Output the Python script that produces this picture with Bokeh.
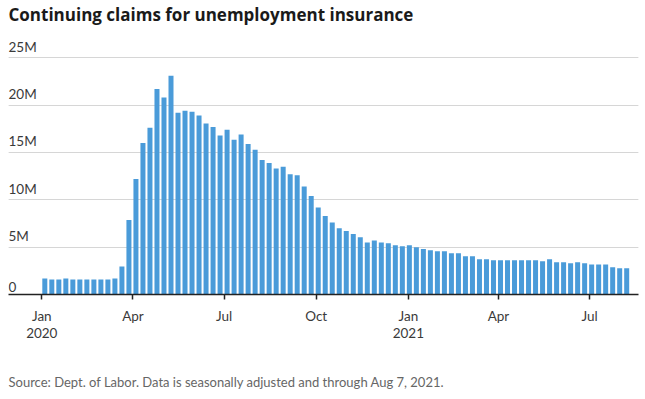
import pandas as pd
from bokeh.plotting import figure
from bokeh.layouts import column
from bokeh.models import (ColumnDataSource, FixedTicker, Grid, Label,
                          CustomJSTickFormatter, Range1d)
from bokeh.embed import file_html
from bokeh.resources import INLINE

title_text = "Continuing claims for unemployment insurance"
source_text = "Source: Dept. of Labor. Data is seasonally adjusted and through Aug 7, 2021."

first_week = "2020-01-04"
# weekly continuing claims, millions
claims_millions = [
    1.70, 1.59, 1.59, 1.70, 1.59, 1.59, 1.59, 1.59, 1.59, 1.59,
    1.70, 2.97, 7.86, 12.2, 16.0, 17.6, 21.7, 20.8, 23.1, 19.2,
    19.4, 19.3, 18.9, 18.05, 17.7, 16.8, 17.4, 16.35, 16.9, 15.9,
    15.3, 14.2, 13.9, 13.3, 13.5, 12.7, 12.6, 11.4, 10.4, 9.2,
    8.3, 7.6, 7.0, 6.7, 6.4, 6.05, 5.5, 5.7, 5.5, 5.4,
    5.2, 5.1, 5.2, 5.0, 4.8, 4.67, 4.57, 4.57, 4.35, 4.35,
    4.03, 4.03, 3.72, 3.72, 3.61, 3.61, 3.61, 3.61, 3.61, 3.61,
    3.61, 3.5, 3.72, 3.4, 3.4, 3.3, 3.4, 3.3, 3.18, 3.18,
    3.18, 2.87, 2.76, 2.76,
]
y_ticks = [0, 5, 10, 15, 20, 25]
y_tick_labels = ["0", "5M", "10M", "15M", "20M", "25M"]
x_tick_dates = ["2020-01-01", "2020-04-01", "2020-07-01", "2020-10-01",
                "2021-01-01", "2021-04-01", "2021-07-01"]

weeks = pd.date_range(first_week, periods=len(claims_millions), freq="7D")
src = ColumnDataSource(dict(week=weeks, claims=claims_millions))

FONT = "Lato"
DAY = 86400000
FRAME_H = 265
PX_PER_M = 236.7 / 25.0

p = figure(frame_width=630, frame_height=FRAME_H, x_axis_type="datetime",
           y_axis_location=None, output_backend="svg", toolbar_location=None,
           x_range=Range1d(pd.Timestamp("2019-11-28 18:00"), pd.Timestamp("2021-08-18 19:00")),
           y_range=Range1d(0, FRAME_H / PX_PER_M),
           min_border_left=8, min_border_right=7, min_border_top=0,
           min_border_bottom=0)
p.outline_line_color = None
p.background_fill_color = "white"
p.border_fill_color = "white"

p.title.text = title_text
p.title.text_font = "Open Sans"
p.title.text_font_size = "17px"
p.title.text_font_style = "bold"
p.title.text_color = "#1a1a1a"
p.title.vertical_align = "top"
p.title.standoff = 4
p.title.offset = 0

p.xgrid.visible = False
p.add_layout(Grid(dimension=1, ticker=FixedTicker(ticks=[t for t in y_ticks if t > 0]),
                  grid_line_color="#d6d6d6", grid_line_width=1.2))

p.vbar(x="week", top="claims", bottom=0, width=5 * DAY, source=src,
       fill_color="#4a9bd9", line_color=None)

ax = p.xaxis[0]
ax.ticker = FixedTicker(ticks=[pd.Timestamp(d).value / 1e6 for d in x_tick_dates])
ax.formatter = CustomJSTickFormatter(code="""
const d = new Date(tick);
const names = ["Jan","Feb","Mar","Apr","May","Jun","Jul","Aug","Sep","Oct","Nov","Dec"];
const m = names[d.getUTCMonth()];
return d.getUTCMonth() === 0 ? m + "\\n" + d.getUTCFullYear() : m;
""")
ax.axis_line_color = "#222222"
ax.axis_line_width = 1.5
ax.major_tick_line_color = "#222222"
ax.major_tick_line_width = 1.5
ax.major_tick_out = 5
ax.major_tick_in = 0
ax.minor_tick_line_color = None
ax.major_label_standoff = 8
ax.major_label_text_font = FONT
ax.major_label_text_font_size = "13.5px"
ax.major_label_text_line_height = 1.1
ax.major_label_text_color = "#3a3a3a"

for v, lab in zip(y_ticks, y_tick_labels):
    p.add_layout(Label(x=0, x_units="screen", y=v, y_units="data", text=lab,
                       text_baseline="bottom", text_align="left", y_offset=3,
                       text_font=FONT, text_font_size="13.5px", text_color="#3a3a3a"))

# source note strip under the chart
note = figure(width=645, height=55, output_backend="svg", toolbar_location=None,
              x_axis_location=None, y_axis_location=None, title_location="below",
              min_border_left=8, min_border_right=0, min_border_top=0,
              min_border_bottom=0)
note.outline_line_color = None
note.xgrid.visible = False
note.ygrid.visible = False
note.title.text = source_text
note.title.align = "left"
note.title.vertical_align = "top"
note.title.standoff = 16
note.title.text_font = FONT
note.title.text_font_size = "13px"
note.title.text_font_style = "normal"
note.title.text_color = "#666666"

layout = column(p, note, spacing=0)
open("out.html", "w").write(file_html(layout, INLINE))
